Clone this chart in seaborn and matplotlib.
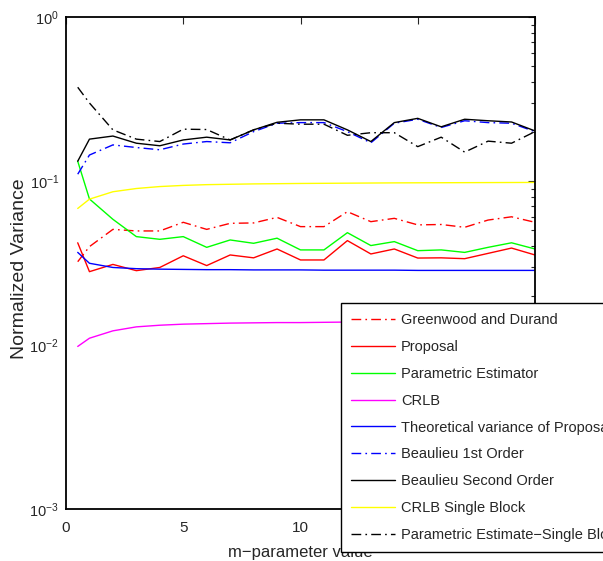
import matplotlib
matplotlib.use("Agg")
import matplotlib.pyplot as plt
import seaborn as sns
import numpy as np
import pandas as pd

# m-parameter values
m_vals = [0.5] + list(range(1, 21))

greenwood = [0.0322, 0.0398, 0.0507, 0.0496, 0.0496, 0.056, 0.0507, 0.0552, 0.0555, 0.060, 0.0527,
             0.0527, 0.065, 0.0565, 0.0592, 0.054, 0.0543, 0.0522, 0.0578, 0.0605, 0.056]
proposal = [0.042, 0.028, 0.031, 0.0284, 0.0297, 0.035, 0.0305, 0.0354, 0.034, 0.0385, 0.033,
            0.033, 0.0433, 0.0359, 0.0385, 0.0339, 0.034, 0.0336, 0.0362, 0.039, 0.0354]
param_est = [0.132, 0.0777, 0.0584, 0.0458, 0.0441, 0.0458, 0.0394, 0.0437, 0.0417, 0.0448, 0.038,
             0.038, 0.0484, 0.0404, 0.0427, 0.0376, 0.038, 0.0367, 0.0394, 0.042, 0.0385]
crlb = [0.0098, 0.011, 0.0122, 0.0129, 0.0132, 0.0134, 0.0135, 0.0136, 0.01365, 0.0137, 0.0137,
        0.01375, 0.0138, 0.0138, 0.0138, 0.0139, 0.0139, 0.0139, 0.0139, 0.0139, 0.0139]
theo_var = [0.0367, 0.0315, 0.0297, 0.0292, 0.0290, 0.0289, 0.0288, 0.0288, 0.0287, 0.0287, 0.0287,
            0.0286, 0.0286, 0.0286, 0.0286, 0.0285, 0.0285, 0.0285, 0.0285, 0.0285, 0.0285]
beaulieu_1 = [0.11, 0.144, 0.166, 0.16, 0.155, 0.168, 0.174, 0.171, 0.2, 0.225, 0.227,
              0.227, 0.2, 0.171, 0.225, 0.238, 0.212, 0.233, 0.227, 0.225, 0.2]
beaulieu_2 = [0.132, 0.180, 0.188, 0.170, 0.164, 0.178, 0.185, 0.178, 0.205, 0.228, 0.236,
              0.236, 0.205, 0.174, 0.227, 0.241, 0.214, 0.238, 0.233, 0.229, 0.202]
crlb_single = [0.068, 0.0775, 0.086, 0.090, 0.0925, 0.094, 0.095, 0.0955, 0.096, 0.0963, 0.0966,
               0.0968, 0.097, 0.0972, 0.0974, 0.0975, 0.0976, 0.0977, 0.0978, 0.0979, 0.098]
param_single = [0.373, 0.299, 0.205, 0.18, 0.174, 0.207, 0.206, 0.178, 0.205, 0.225, 0.222,
                0.222, 0.19, 0.197, 0.197, 0.162, 0.185, 0.150, 0.175, 0.17, 0.2]

series_names = ["Greenwood and Durand", "Proposal", "Parametric Estimator", "CRLB",
                "Theoretical variance of Proposal", "Beaulieu 1st Order",
                "Beaulieu Second Order", "CRLB Single Block", "Parametric Estimate\u2212Single Block"]
series_vals = [greenwood, proposal, param_est, crlb, theo_var, beaulieu_1,
               beaulieu_2, crlb_single, param_single]
colors = ["#ff0000", "#ff0000", "#00ff00", "#ff00ff", "#0000ff", "#0000ff",
          "#000000", "#ffff00", "#000000"]
dashdot = (7, 3, 1.2, 3)
styles = [dashdot, "", "", "", "", dashdot, "", "", dashdot]

df = pd.DataFrame({
    "m": np.tile(m_vals, len(series_names)),
    "var": np.concatenate(series_vals),
    "series": np.repeat(series_names, len(m_vals)),
})

sns.set_style("white")
plt.rcParams["font.family"] = ["Liberation Sans", "DejaVu Sans"]
plt.rcParams["mathtext.default"] = "regular"

fig = plt.figure(figsize=(6.03, 5.61), dpi=100)
ax = fig.add_axes([66 / 603, 52 / 561, 469 / 603, 492 / 561])

sns.lineplot(data=df, x="m", y="var", hue="series", style="series",
             hue_order=series_names, style_order=series_names,
             palette=dict(zip(series_names, colors)),
             dashes=dict(zip(series_names, styles)),
             lw=1.0, ax=ax)

ax.set_yscale("log")
ax.set_ylim(1e-3, 1e0)
ax.set_xlim(0, 20)
ax.set_xticks([0, 5, 10, 15, 20])
ax.tick_params(which="both", direction="in", top=True, right=True)
ax.tick_params(axis="x", pad=9, labelsize=11)
ax.tick_params(axis="y", pad=5, labelsize=10.5)
ax.tick_params(which="major", length=5, width=0.8)
ax.tick_params(which="minor", length=3, width=0.8)
for sp in ax.spines.values():
    sp.set_linewidth(1.3)
    sp.set_color("black")
ax.set_xlabel("m\u2212parameter value", fontsize=12, labelpad=7)
ax.set_ylabel("Normalized Variance", fontsize=14)
ax.yaxis.set_label_coords(-0.08, 0.489)

handles, labels = ax.get_legend_handles_labels()
ax.get_legend().remove()
leg = ax.legend(handles, labels, loc="upper left",
                bbox_to_anchor=(341 / 603, 1 - 303 / 561), bbox_transform=fig.transFigure,
                fontsize=10.5, frameon=True, fancybox=False, framealpha=1,
                edgecolor="black", handlelength=3.0, handletextpad=0.4,
                labelspacing=0.88, borderpad=0.7, borderaxespad=0)
leg.get_frame().set_linewidth(1.0)
leg.set_zorder(10)

fig.savefig("out.png", dpi=100)
